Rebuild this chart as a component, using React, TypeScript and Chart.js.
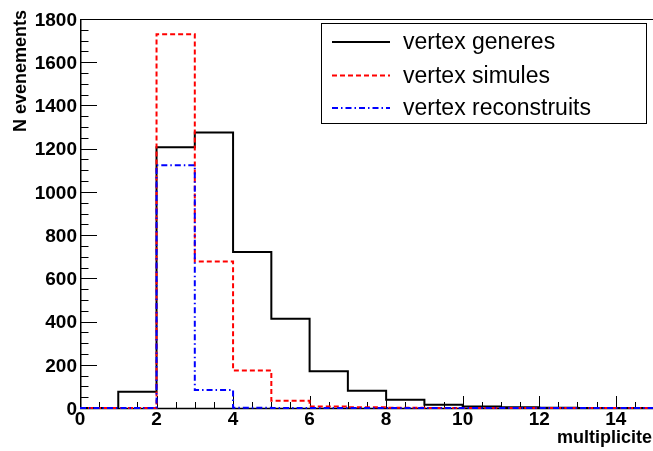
import { useEffect, useRef } from "react";
import { Chart, registerables } from "chart.js";

Chart.register(...registerables);

// ---- data ----
const binEdges = [0, 1, 2, 3, 4, 5, 6, 7, 8, 9, 10, 11, 12, 13, 14, 15];
const generes = [0, 75, 1206, 1275, 722, 413, 170, 80, 38, 15, 7, 3, 1, 0, 0];
const simules = [0, 0, 1730, 678, 174, 34, 7, 3, 1, 0, 0, 0, 0, 0, 0];
const reconstruits = [0, 0, 1123, 83, 1, 0, 0, 0, 0, 0, 0, 0, 0, 0, 0];
const xTickValues = [0, 2, 4, 6, 8, 10, 12, 14];
const yTickValues = [0, 200, 400, 600, 800, 1000, 1200, 1400, 1600, 1800];
const seriesLabels = ["vertex generes", "vertex simules", "vertex reconstruits"];
const xTitle = "multiplicite";
const yTitle = "N evenements";

const FONT = "'Liberation Sans', Arial, Helvetica, sans-serif";
const COLORS = ["#000000", "#ff0000", "#0000ff"];
const DASHES: number[][] = [[], [5, 3], [6, 3, 1.5, 3]];

function toSteps(values: number[]) {
  return binEdges.map((e, i) => ({ x: e, y: values[Math.min(i, values.length - 1)] }));
}

const rootPlugin = {
  id: "rootFrame",
  beforeDatasetsDraw(chart: any) {
    const { ctx, chartArea: a, scales } = chart;
    const xs = scales.x;
    const ys = scales.y;
    ctx.save();
    ctx.strokeStyle = "#000";
    ctx.lineWidth = 1;
    // frame top
    ctx.beginPath();
    ctx.moveTo(a.left, a.top + 0.5);
    ctx.lineTo(a.right + 5, a.top + 0.5);
    ctx.stroke();
    ctx.lineWidth = 1.5;
    // axes
    ctx.beginPath();
    ctx.moveTo(a.left + 0.75, a.top);
    ctx.lineTo(a.left + 0.75, a.bottom + 0.5);
    ctx.moveTo(a.left, a.bottom + 0.5);
    ctx.lineTo(a.right + 5, a.bottom + 0.5);
    ctx.stroke();
    ctx.lineWidth = 1;
    // y ticks
    ctx.beginPath();
    for (let v = 0; v <= 1800; v += 50) {
      const py = Math.round(ys.getPixelForValue(v)) + 0.5;
      const len = v % 200 === 0 ? 17 : 8.5;
      ctx.moveTo(a.left, py);
      ctx.lineTo(a.left + len, py);
    }
    // x ticks
    for (let v = 0; v <= 15; v += 0.5) {
      const px = Math.round(xs.getPixelForValue(v)) + 0.5;
      const len = v % 2 === 0 ? 12 : 6;
      ctx.moveTo(px, a.bottom);
      ctx.lineTo(px, a.bottom - len);
    }
    ctx.stroke();
    ctx.restore();
  },
  afterDraw(chart: any) {
    const { ctx } = chart;
    ctx.save();
    // titles
    ctx.fillStyle = "#000";
    ctx.font = `bold 18px ${FONT}`;
    ctx.textAlign = "right";
    ctx.textBaseline = "middle";
    ctx.fillText(xTitle, 652, 438);
    ctx.save();
    ctx.translate(21, 10);
    ctx.rotate(-Math.PI / 2);
    ctx.textAlign = "right";
    ctx.textBaseline = "middle";
    ctx.fillText(yTitle, 0, 0);
    ctx.restore();

    // legend
    const bx = 321, by = 23, bw = 325, bh = 100;
    ctx.fillStyle = "#fff";
    ctx.fillRect(bx, by, bw, bh);
    ctx.strokeStyle = "#000";
    ctx.lineWidth = 1;
    ctx.strokeRect(bx + 0.5, by + 0.5, bw, bh);
    const rows = [42, 75.5, 108];
    ctx.font = `23px ${FONT}`;
    ctx.textAlign = "left";
    ctx.textBaseline = "middle";
    seriesLabels.forEach((lab, i) => {
      ctx.strokeStyle = COLORS[i];
      ctx.lineWidth = 2;
      ctx.setLineDash(DASHES[i]);
      ctx.beginPath();
      ctx.moveTo(332, rows[i]);
      ctx.lineTo(390, rows[i]);
      ctx.stroke();
      ctx.setLineDash([]);
      ctx.fillStyle = "#000";
      ctx.fillText(lab, 403, rows[i] + 1);
    });
    ctx.restore();
  },
};

export default function App() {
  const ref = useRef<HTMLCanvasElement | null>(null);
  useEffect(() => {
    if (!ref.current) return;
    const series = [reconstruits, simules, generes];
    const idx = [2, 1, 0];
    const chart = new Chart(ref.current, {
      type: "line",
      data: {
        datasets: series.map((s, k) => ({
          label: seriesLabels[idx[k]],
          data: toSteps(s),
          stepped: true,
          borderColor: COLORS[idx[k]],
          borderWidth: 2,
          borderDash: DASHES[idx[k]],
          pointRadius: 0,
          fill: false,
          clip: false as any,
        })),
      },
      options: {
        responsive: false,
        animation: false,
        devicePixelRatio: 1,
        layout: { padding: { top: 19, right: 1, left: 0, bottom: 0 } },
        plugins: { legend: { display: false }, tooltip: { enabled: false }, title: { display: false } },
        scales: {
          x: {
            type: "linear",
            min: 0,
            max: 15,
            grid: { display: false, drawTicks: false },
            border: { display: false },
            afterBuildTicks: (s: any) => {
              s.ticks = xTickValues.map((v) => ({ value: v }));
            },
            afterFit: (s: any) => {
              s.height = 43;
            },
            ticks: {
              color: "#000",
              padding: 0,
              maxRotation: 0,
              autoSkip: false,
              callback: (v: any) => String(v),
              font: { family: FONT, size: 19, weight: "bold" },
            },
          },
          y: {
            type: "linear",
            min: 0,
            max: 1800,
            grid: { display: false, drawTicks: false },
            border: { display: false },
            afterBuildTicks: (s: any) => {
              s.ticks = yTickValues.map((v) => ({ value: v }));
            },
            afterFit: (s: any) => {
              s.width = 80;
            },
            ticks: {
              color: "#000",
              padding: 3,
              labelOffset: 1.5,
              autoSkip: false,
              callback: (v: any) => String(v),
              font: { family: FONT, size: 19, weight: "bold" },
            },
          },
        },
      },
      plugins: [rootPlugin],
    } as any);
    return () => chart.destroy();
  }, []);
  return (
    <div style={{ position: "fixed", left: 0, top: 0, width: 653, height: 451, overflow: "hidden", background: "#fff" }}>
      <canvas ref={ref} width={655} height={451} style={{ display: "block", width: 655, height: 451 }} />
    </div>
  );
}
